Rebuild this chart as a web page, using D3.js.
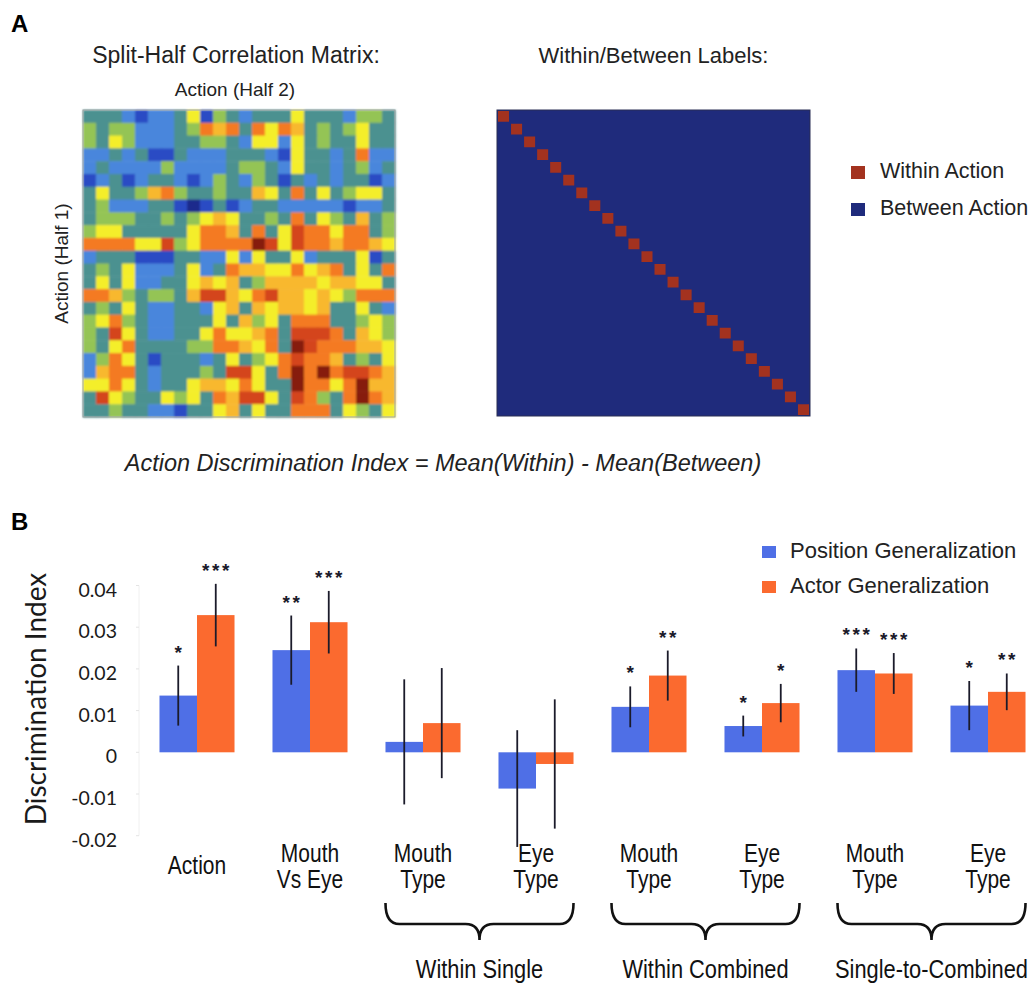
<!DOCTYPE html>
<html>
<head>
<meta charset="utf-8">
<script src="https://cdn.jsdelivr.net/npm/d3@7"></script>
<style>
  body { margin: 0; background: #fff; }
  svg { display: block; }
</style>
</head>
<body>
<svg id="fig" width="1036" height="984"></svg>
<script>
// ---------- Panel A data ----------
// Split-half correlation matrix, binned into colour levels 0 (lowest) .. 9 (highest).
const matrixRows = [
  "333212235143233353332443",
  "434422234767375763434533",
  "435422233443255253433533",
  "223231132223332153323722",
  "232222422223443253323423",
  "123123321243243132323312",
  "353346743343365373534553",
  "342223310131233222221223",
  "344433434565334373543634",
  "455333335776373587757734",
  "777755845777798587767765",
  "233311133225253352333513",
  "343522235237665575673537",
  "353522335656346666566553",
  "776434436886578665654777",
  "343532233256365665633532",
  "457432233353645377733454",
  "438532233575567388873654",
  "435733334477657398777665",
  "247531333235345787763435",
  "267732333438853797978876",
  "557532335665753397757966",
  "385433545376885387437976",
  "334332213356353377735435"
];
const levelColors = ["#1c2a8c", "#2a4cc4", "#4a86dc", "#4b9190", "#94c454",
                     "#f4ee2c", "#f8b82e", "#f47a24", "#d4441a", "#861a10"];
const withinColor = "#a3321f";
const betweenColor = "#1f2b7c";
const labelLegend = [
  { name: "Within Action", color: withinColor },
  { name: "Between Action", color: betweenColor }
];

// ---------- Panel B data ----------
const categoryLines = [
  ["Action"], ["Mouth", "Vs Eye"], ["Mouth", "Type"], ["Eye", "Type"],
  ["Mouth", "Type"], ["Eye", "Type"], ["Mouth", "Type"], ["Eye", "Type"]
];
const positionValues = [0.0136, 0.0245, 0.0025, -0.0087, 0.0109, 0.0063, 0.0197, 0.0112];
const positionErrors = [0.0072, 0.0083, 0.0150, 0.0140, 0.0049, 0.0025, 0.0052, 0.0059];
const positionStars  = [1, 2, 0, 0, 1, 1, 3, 1];
const actorValues    = [0.0329, 0.0312, 0.0070, -0.0028, 0.0184, 0.0118, 0.0189, 0.0145];
const actorErrors    = [0.0075, 0.0075, 0.0132, 0.0155, 0.0060, 0.0046, 0.0049, 0.0044];
const actorStars     = [3, 3, 0, 0, 2, 1, 3, 2];
const seriesNames = ["Position Generalization", "Actor Generalization"];
const seriesColors = ["#4f6fe6", "#fb6a2f"];
const yTicks = [-0.02, -0.01, 0, 0.01, 0.02, 0.03, 0.04];
const yTickLabels = ["-0.02", "-0.01", "0", "0.01", "0.02", "0.03", "0.04"];
const braceGroups = [
  { label: "Within Single", from: 2, to: 3 },
  { label: "Within Combined", from: 4, to: 5 },
  { label: "Single-to-Combined", from: 6, to: 7 }
];

const svg = d3.select("#fig");
const sans = "'Liberation Sans', Arial, Helvetica, sans-serif";
const calib = "Lato, 'Open Sans', sans-serif";

// condensed text: regular sans squeezed horizontally
function narrowText(parent, cx, cy, str, size) {
  return parent.append("text")
    .attr("transform", `translate(${cx},${cy}) scale(0.84,1)`)
    .attr("text-anchor", "middle").attr("font-family", sans).attr("font-size", size)
    .attr("fill", "#111").text(str);
}

// ================= Panel A =================
svg.append("text").attr("x", 11).attr("y", 32)
  .attr("font-family", sans).attr("font-weight", "bold").attr("font-size", 24)
  .text("A");

const n = matrixRows.length;
const idx = d3.range(n);
const matrix = matrixRows.map(r => r.split("").map(Number));
const colorScale = d3.scaleLinear().domain(d3.range(levelColors.length)).range(levelColors);

// soft edges on the matrix cells
const defs = svg.append("defs");
defs.append("filter").attr("id", "soft")
  .attr("x", "-2%").attr("y", "-2%").attr("width", "104%").attr("height", "104%")
  .append("feGaussianBlur").attr("stdDeviation", 1.0);

const hx = d3.scaleBand().domain(idx).range([83, 395]);
const hy = d3.scaleBand().domain(idx).range([110, 417]);

svg.append("text").attr("x", (83 + 395) / 2 - 3).attr("y", 63)
  .attr("text-anchor", "middle").attr("font-family", sans).attr("font-size", 23)
  .attr("fill", "#222").text("Split-Half Correlation Matrix:");
svg.append("text").attr("x", 235).attr("y", 96)
  .attr("text-anchor", "middle").attr("font-family", sans).attr("font-size", 19)
  .attr("fill", "#222").text("Action (Half 2)");
svg.append("text")
  .attr("transform", `translate(68,${(110 + 417) / 2}) rotate(-90)`)
  .attr("text-anchor", "middle").attr("font-family", sans).attr("font-size", 19)
  .attr("fill", "#222").text("Action (Half 1)");

const heat = svg.append("g").attr("filter", "url(#soft)");
heat.selectAll("g").data(matrix).join("g")
  .selectAll("rect")
  .data((row, i) => row.map((v, j) => ({ i, j, v })))
  .join("rect")
  .attr("x", d => hx(d.j)).attr("y", d => hy(d.i))
  .attr("width", hx.bandwidth() + 0.5).attr("height", hy.bandwidth() + 0.5)
  .attr("fill", d => colorScale(d.v));
svg.append("rect").attr("x", 83).attr("y", 110).attr("width", 312).attr("height", 307)
  .attr("fill", "none").attr("stroke", "#9aa0a0").attr("stroke-width", 1);

// Within / between label matrix
const lx = d3.scaleBand().domain(idx).range([497, 810]);
const ly = d3.scaleBand().domain(idx).range([110, 416]);
svg.append("text").attr("x", (497 + 810) / 2).attr("y", 63)
  .attr("text-anchor", "middle").attr("font-family", sans).attr("font-size", 22)
  .attr("fill", "#222").text("Within/Between Labels:");
const lab = svg.append("g");
lab.append("rect")
  .attr("x", lx.range()[0]).attr("y", ly.range()[0])
  .attr("width", lx.range()[1] - lx.range()[0]).attr("height", ly.range()[1] - ly.range()[0])
  .attr("fill", betweenColor);
lab.selectAll("rect.within").data(idx).join("rect").attr("class", "within")
  .attr("x", d => lx(d) + 1).attr("y", d => ly(d) + 1)
  .attr("width", lx.bandwidth() - 2).attr("height", ly.bandwidth() - 2)
  .attr("fill", withinColor);
svg.append("rect").attr("x", 497).attr("y", 110).attr("width", 313).attr("height", 306)
  .attr("fill", "none").attr("stroke", "#2a2f55").attr("stroke-width", 1);

const legA = svg.append("g").selectAll("g").data(labelLegend).join("g")
  .attr("transform", (d, i) => `translate(851,${166 + i * 37})`);
legA.append("rect").attr("width", 14).attr("height", 13).attr("fill", d => d.color);
legA.append("text").attr("x", 29).attr("y", 12)
  .attr("font-family", sans).attr("font-size", 21.5).attr("fill", "#222").text(d => d.name);

svg.append("text").attr("x", 443).attr("y", 471)
  .attr("text-anchor", "middle").attr("font-family", sans).attr("font-style", "italic")
  .attr("font-size", 23.5).attr("fill", "#222")
  .text("Action Discrimination Index = Mean(Within) - Mean(Between)");

// ================= Panel B =================
svg.append("text").attr("x", 11).attr("y", 530)
  .attr("font-family", sans).attr("font-weight", "bold").attr("font-size", 24)
  .text("B");

const y = d3.scaleLinear().domain([-0.02, 0.04]).range([835.7, 585.5]);
const x = d3.scaleBand().domain(d3.range(categoryLines.length))
  .range([140.5, 1044.5]).paddingInner(0.336).paddingOuter(0.168);
const xs = d3.scaleBand().domain([0, 1]).range([0, x.bandwidth()]);

// faint axis
svg.append("line").attr("x1", 139).attr("x2", 139).attr("y1", y(-0.02)).attr("y2", y(0.04))
  .attr("stroke", "#f0f0f0");
svg.append("g").selectAll("line").data(yTicks).join("line")
  .attr("x1", 136).attr("x2", 139).attr("y1", d => y(d)).attr("y2", d => y(d))
  .attr("stroke", "#e4e4e4");
svg.append("g").selectAll("text").data(yTicks).join("text")
  .attr("x", 117).attr("y", d => y(d) + 11)
  .attr("text-anchor", "end").attr("font-family", calib).attr("font-size", 19.5)
  .attr("fill", "#1a1a1a").text((d, i) => yTickLabels[i]);
svg.append("text")
  .attr("transform", `translate(46,699) rotate(-90)`)
  .attr("text-anchor", "middle").attr("font-family", calib).attr("font-size", 28)
  .attr("fill", "#1a1a1a").text("Discrimination Index");

const bars = categoryLines.map((c, i) => [
  { i, s: 0, v: positionValues[i], e: positionErrors[i], k: positionStars[i] },
  { i, s: 1, v: actorValues[i], e: actorErrors[i], k: actorStars[i] }
]).flat();

const bg = svg.append("g");
bg.selectAll("rect").data(bars).join("rect")
  .attr("x", d => x(d.i) + xs(d.s)).attr("width", xs.bandwidth())
  .attr("y", d => y(Math.max(0, d.v)))
  .attr("height", d => Math.abs(y(d.v) - y(0)))
  .attr("fill", d => seriesColors[d.s]);
bg.selectAll("line").data(bars).join("line")
  .attr("x1", d => x(d.i) + xs(d.s) + xs.bandwidth() / 2)
  .attr("x2", d => x(d.i) + xs(d.s) + xs.bandwidth() / 2)
  .attr("y1", d => y(d.v + d.e)).attr("y2", d => y(d.v - d.e))
  .attr("stroke", "#1b1b2a").attr("stroke-width", 1.8);

// significance stars
const starData = bars.filter(d => d.k > 0).flatMap(d =>
  d3.range(d.k).map(k => ({
    cx: x(d.i) + xs(d.s) + xs.bandwidth() / 2 + (k - (d.k - 1) / 2) * 10,
    cy: y(d.v + d.e) - 7
  })));
bg.selectAll("text").data(starData).join("text")
  .attr("x", d => d.cx).attr("y", d => d.cy)
  .attr("text-anchor", "middle").attr("font-family", sans).attr("font-weight", "bold")
  .attr("font-size", 19).attr("fill", "#1a1a2a").text("*");

// category labels
const catG = svg.append("g");
categoryLines.forEach((lines, i) => {
  const cx = x(i) + x.bandwidth() / 2;
  const y0 = lines.length === 1 ? 874 : 862;
  lines.forEach((ln, k) => narrowText(catG, cx, y0 + k * 26, ln, 25));
});

// braces grouping categories
function bracePath(x0, x1) {
  const top = 903, mid = 924, tip = 940, r = 14, xc = (x0 + x1) / 2;
  return `M${x0},${top} Q${x0},${mid} ${x0 + r},${mid} L${xc - r},${mid} Q${xc},${mid} ${xc},${tip}` +
         ` Q${xc},${mid} ${xc + r},${mid} L${x1 - r},${mid} Q${x1},${mid} ${x1},${top}`;
}
const br = svg.append("g");
braceGroups.forEach(d => {
  const x0 = x(d.from), x1 = x(d.to) + x.bandwidth();
  br.append("path").attr("d", bracePath(x0, x1))
    .attr("fill", "none").attr("stroke", "#111").attr("stroke-width", 2.6);
  narrowText(br, (x0 + x1) / 2, 978, d.label, 26);
});

// series legend
const legB = svg.append("g").selectAll("g").data(seriesNames).join("g")
  .attr("transform", (d, i) => `translate(762,${546 + i * 35})`);
legB.append("rect").attr("width", 14).attr("height", 12).attr("fill", (d, i) => seriesColors[i]);
legB.append("text").attr("x", 28).attr("y", 12)
  .attr("font-family", sans).attr("font-size", 22).attr("fill", "#222").text(d => d);
</script>
</body>
</html>
